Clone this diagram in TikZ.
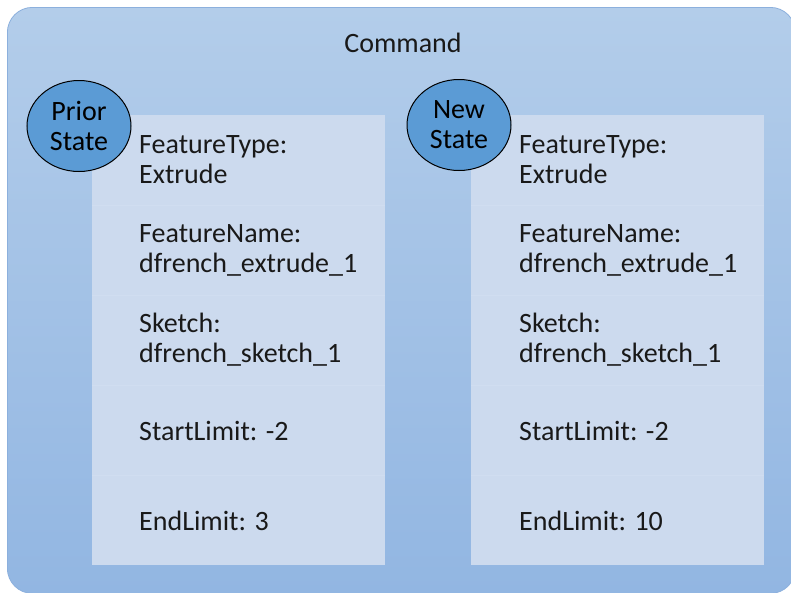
\documentclass[tikz,border=0pt]{standalone}
\usepackage{fontspec}
\setmainfont{Carlito}
\usetikzlibrary{shapes.geometric}
\definecolor{outertop}{HTML}{B3CDEA}
\definecolor{outerbot}{HTML}{92B6E2}
\definecolor{outerline}{HTML}{8CB0DD}
\definecolor{panelfill}{HTML}{CCDAEE}
\definecolor{rowline}{HTML}{D0DDF0}
\definecolor{statefill}{HTML}{5B9BD5}
\tikzset{
  panelbox/.style={fill=panelfill, draw=none, minimum width=293pt, minimum height=450pt, inner sep=0pt, anchor=north west},
  rowtext/.style={font=\fontsize{28}{30}\selectfont, align=left, anchor=west, inner sep=0pt, text=black!90},
  statenode/.style={ellipse, draw=black, line width=1pt, fill=statefill, minimum width=104pt, minimum height=91pt, inner sep=0pt, align=center, font=\fontsize{28}{30}\selectfont},
  divider/.style={draw=rowline, line width=0.6pt}
}
\begin{document}
\begin{tikzpicture}[x=1pt,y=-1pt]
\useasboundingbox (0,0) rectangle (791,592);
\clip (0,0) rectangle (791,592);
\fill[white] (0,0) rectangle (791,592);
\node[draw=outerline, line width=0.8pt, rounded corners=25pt, top color=outertop, bottom color=outerbot, minimum width=788pt, minimum height=586pt, inner sep=0pt, anchor=north west] (outer) at (7,7) {};
\node[font=\fontsize{28}{30}\selectfont, text=black!90] (cmd) at (403,43) {Command};
% left panel
\node[panelbox] (lp) at (92,115) {};
\foreach \yy in {205,295,385,475} \draw[divider] (92,\yy) -- (385,\yy);
\node[rowtext] (l1) at (139,160) {FeatureType:\\Extrude};
\node[rowtext] (l2) at (139,250) {FeatureName:\\dfrench\_extrude\_1};
\node[rowtext] (l3) at (139,340) {Sketch:\\dfrench\_sketch\_1};
\node[rowtext] (l4) at (139,431) {StartLimit: -2};
\node[rowtext] (l5) at (139,521) {EndLimit: 3};
% right panel
\node[panelbox] (rp) at (471,115) {};
\foreach \yy in {205,295,385,475} \draw[divider] (471,\yy) -- (764,\yy);
\node[rowtext] (r1) at (519,160) {FeatureType:\\Extrude};
\node[rowtext] (r2) at (519,250) {FeatureName:\\dfrench\_extrude\_1};
\node[rowtext] (r3) at (519,340) {Sketch:\\dfrench\_sketch\_1};
\node[rowtext] (r4) at (519,431) {StartLimit: -2};
\node[rowtext] (r5) at (519,521) {EndLimit: 10};
% state ellipses
\node[statenode] (prior) at (79,126) {Prior\\State};
\node[statenode] (new) at (459,125) {New\\State};
\end{tikzpicture}
\end{document}
